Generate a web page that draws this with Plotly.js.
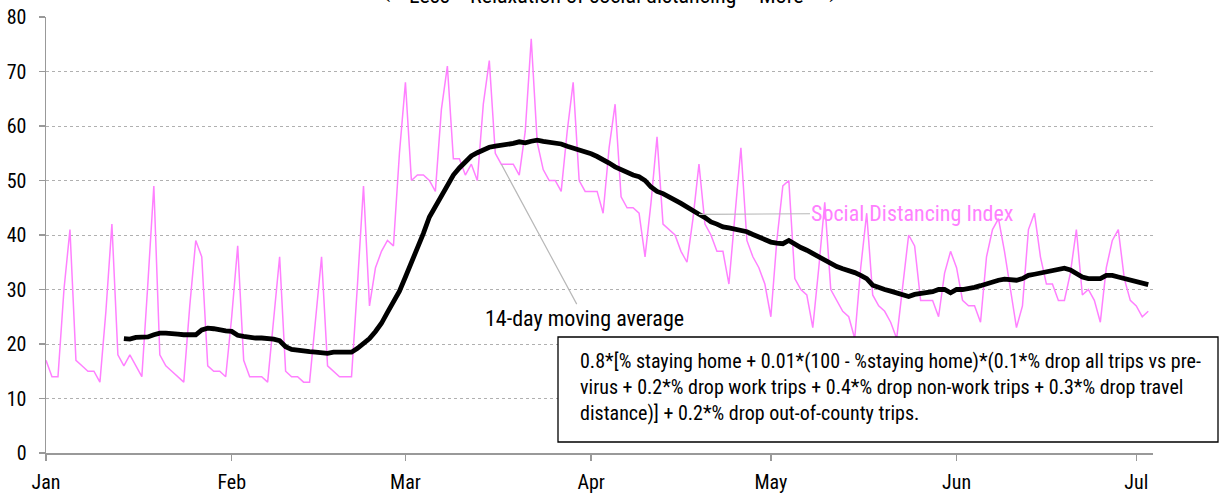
<!DOCTYPE html>
<html>
<head>
<meta charset="utf-8">
<script src="https://cdn.plot.ly/plotly-3.0.1.min.js"></script>
<style>
  html, body { margin: 0; padding: 0; background: #ffffff; }
  #chart { width: 1220px; height: 496px; }
</style>
</head>
<body>
<div id="chart"></div>
<script>
// Daily data, 1 Jan 2020 .. 3 Jul 2020
const startDate = '2020-01-01';

// Social Distancing Index (daily)
const sdiValues = [
  17, 14, 14, 30, 41, 17, 16, 15, 15, 13,
  26, 42, 18, 16, 18, 16, 14, 31, 49, 18,
  16, 15, 14, 13, 27, 39, 36, 16, 15, 15,
  14, 25, 38, 17, 14, 14, 14, 13, 25, 36,
  15, 14, 14, 13, 13, 25, 36, 16, 15, 14,
  14, 14, 31, 49, 27, 34, 37, 39, 38, 55,
  68, 50, 51, 51, 50, 48, 63, 71, 54, 54,
  51, 53, 50, 64, 72, 55, 53, 53, 53, 51,
  59, 76, 57, 52, 50, 50, 48, 59, 68, 50,
  48, 48, 48, 44, 56, 64, 47, 45, 45, 44,
  36, 46, 58, 42, 41, 40, 37, 35, 43, 53,
  42, 40, 37, 37, 31, 44, 56, 39, 36, 34,
  31, 25, 39, 49, 50, 32, 30, 29, 23, 34,
  46, 30, 28, 26, 25, 21, 34, 44, 29, 27,
  26, 24, 21, 30, 40, 38, 28, 28, 28, 25,
  33, 37, 34, 28, 27, 27, 24, 36, 41, 43,
  37, 30, 23, 27, 41, 44, 36, 31, 31, 28,
  28, 33, 41, 29, 30, 28, 24, 34, 39, 41,
  32, 28, 27, 25, 26
];

// 14-day moving average, starts on day index 13 (14 Jan)
const maStartIndex = 13;
const maValues = [
  21.0, 20.9, 21.2, 21.3, 21.3, 21.7, 22.0, 22.0, 22.0, 21.8,
  21.7, 21.7, 21.7, 22.6, 22.9, 22.8, 22.5, 22.4, 22.3, 21.6,
  21.4, 21.2, 21.1, 21.1, 21.1, 20.9, 20.6, 19.5, 19.0, 18.8,
  18.8, 18.6, 18.5, 18.4, 18.3, 18.5, 18.5, 18.5, 18.5, 19.2,
  20.0, 21.0, 22.3, 23.8, 25.8, 27.8, 29.7, 32.3, 34.8, 37.5,
  40.3, 43.3, 45.2, 47.2, 49.3, 51.0, 52.3, 53.4, 54.5, 55.1,
  55.7, 56.1, 56.3, 56.4, 56.6, 56.8, 57.1, 56.9, 57.2, 57.4,
  57.2, 57.1, 56.9, 56.7, 56.3, 56.0, 55.6, 55.2, 54.9, 54.4,
  53.9, 53.2, 52.5, 52.0, 51.4, 51.0, 50.7, 50.0, 48.8, 48.0,
  47.6, 46.9, 46.4, 45.8, 45.1, 44.3, 43.8, 43.2, 42.4, 42.0,
  41.5, 41.3, 41.1, 41.0, 40.6, 40.1, 39.6, 39.1, 38.7, 38.5,
  38.4, 39.0, 38.3, 37.7, 37.2, 36.6, 36.0, 35.3, 34.7, 34.2,
  33.8, 33.5, 33.1, 32.6, 32.0, 30.8, 30.3, 30.0, 29.7, 29.3,
  29.0, 28.7, 29.1, 29.3, 29.3, 29.6, 30.0, 30.0, 29.4, 30.0,
  30.0, 30.1, 30.4, 30.7, 31.1, 31.5, 31.7, 31.9, 31.9, 31.7,
  32.0, 32.6, 32.8, 33.0, 33.2, 33.4, 33.6, 33.9, 33.6, 33.0,
  32.3, 32.0, 32.0, 32.0, 32.6, 32.6, 32.3, 32.0, 31.7, 31.4,
  31.1, 30.9
];

const yTickValues = [0, 10, 20, 30, 40, 50, 60, 70, 80];

const labelSDI = 'Social Distancing Index';
const labelMA = '14-day moving average';
const noteLines = [
  '0.8*[% staying home + 0.01*(100 - %staying home)*(0.1*% drop all trips vs pre-',
  'virus + 0.2*% drop work trips + 0.4*% drop non-work trips + 0.3*% drop travel',
  'distance)] + 0.2*% drop out-of-county trips.'
];
const topLabels = ['\u2190', 'Less', 'Relaxation of social distancing', 'More', '\u2192'];

// build date categories
function dayString(i) {
  const d = new Date(startDate + 'T00:00:00Z');
  d.setUTCDate(d.getUTCDate() + i);
  return d.toISOString().slice(0, 10);
}
const dates = sdiValues.map((_, i) => dayString(i));
const maDates = maValues.map((_, i) => dayString(i + maStartIndex));

const FONT = "'Roboto Condensed', 'Roboto', sans-serif";
const PINK = '#ff80ff';
const GREYLINE = '#b8b8b8';
const AXISGREY = '#999999';

// plot area in pixels
const L = 46, R = 1153, T = 17, B = 453;
const px = v => (v - L) / (R - L);
const py = v => (B - v) / (B - T);

const traces = [
  {
    x: dates, y: sdiValues, type: 'scatter', mode: 'lines',
    line: { color: PINK, width: 1.5 }, name: labelSDI, hoverinfo: 'skip'
  },
  {
    x: maDates, y: maValues, type: 'scatter', mode: 'lines',
    line: { color: '#000000', width: 4.8 }, name: labelMA, hoverinfo: 'skip'
  }
];

const topPos = [393, 429, 603, 781, 827];
const annotations = topLabels.map((t, i) => ({
  xref: 'paper', yref: 'paper', x: px(topPos[i]), y: py(10),
  xanchor: 'center', yanchor: 'bottom', showarrow: false,
  text: t, font: { family: FONT, size: 22, color: '#000' }
}));

annotations.push({
  xref: 'x', yref: 'y', x: dates[76], y: sdiValues[76],
  text: labelMA, showarrow: true, arrowhead: 0, arrowwidth: 1.2, arrowcolor: GREYLINE,
  ax: 83, ay: 154, standoff: 0,
  font: { family: FONT, size: 22, color: '#000' }
});
annotations.push({
  xref: 'x', yref: 'y', x: maDates[109 - maStartIndex], y: maValues[109 - maStartIndex],
  text: labelSDI, showarrow: true, arrowhead: 0, arrowwidth: 1.2, arrowcolor: GREYLINE,
  ax: 214, ay: -1, standoff: 0,
  font: { family: FONT, size: 22, color: PINK }
});
annotations.push({
  xref: 'paper', yref: 'paper', x: px(578), y: py(387),
  xanchor: 'left', yanchor: 'middle', align: 'left', showarrow: false,
  text: noteLines.join('<br>'),
  font: { family: FONT, size: 20, color: '#000' }
});

const layout = {
  width: 1220, height: 496,
  margin: { l: L, r: 1220 - R, t: T, b: 496 - B, pad: 0 },
  paper_bgcolor: '#ffffff', plot_bgcolor: '#ffffff',
  showlegend: false,
  font: { family: FONT, size: 20, color: '#000' },
  xaxis: {
    type: 'date',
    range: ['2020-01-01', '2020-07-03 19:00'],
    tickformat: '%b', dtick: 'M1', tick0: '2020-01-01',
    ticks: 'outside', ticklen: 6, tickwidth: 1.5, tickcolor: AXISGREY,
    showline: true, linecolor: AXISGREY, linewidth: 1.5,
    showgrid: false, zeroline: false,
    ticklabelstandoff: 4,
    tickfont: { family: FONT, size: 20, color: '#000' }
  },
  yaxis: {
    range: [0, 80], tickvals: yTickValues, ticktext: yTickValues.map(String),
    ticks: 'outside', ticklen: 6, tickwidth: 1.5, tickcolor: AXISGREY,
    showline: true, linecolor: AXISGREY, linewidth: 1.5,
    showgrid: true, gridcolor: '#b0b0b0', gridwidth: 1, griddash: 'dot',
    zeroline: false,
    ticklabelstandoff: 8,
    tickfont: { family: FONT, size: 20, color: '#000' }
  },
  shapes: [
    {
      type: 'rect', xref: 'paper', yref: 'paper', layer: 'above',
      x0: px(558), x1: px(1218), y0: py(442), y1: py(337),
      fillcolor: '#ffffff', line: { color: '#000000', width: 1.3 }
    }
  ],
  annotations: annotations
};

Plotly.newPlot('chart', traces, layout, { staticPlot: true, displayModeBar: false });
</script>
</body>
</html>
